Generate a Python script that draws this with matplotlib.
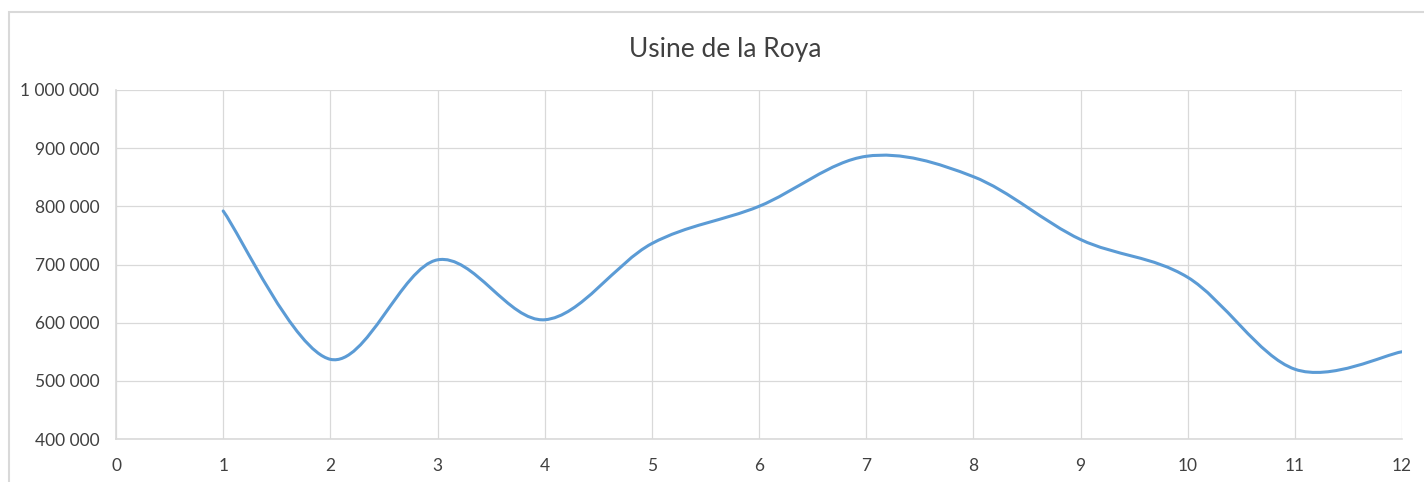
import numpy as np
import matplotlib
matplotlib.use("Agg")
import matplotlib.pyplot as plt
from matplotlib.path import Path
from matplotlib.patches import PathPatch, Rectangle
from matplotlib.ticker import FuncFormatter

# data
mois = [1, 2, 3, 4, 5, 6, 7, 8, 9, 10, 11, 12]
production = [792000, 537000, 708000, 605000, 736000, 800000,
              886000, 851000, 743000, 678000, 520000, 550000]

title = "Usine de la Roya"
x_ticks = list(range(0, 13))
y_ticks = list(range(400000, 1000001, 100000))

plt.rcParams['font.family'] = ['Lato', 'DejaVu Sans']
text_color = '#404040'
grid_color = '#D9D9D9'
line_color = '#5B9BD5'

fig = plt.figure(figsize=(14.24, 4.82), dpi=100)
ax = fig.add_axes([116 / 1424, 1 - 439 / 482, (1402 - 116) / 1424, (439 - 90) / 482])

# chart border (Excel style frame, cut by the image edge)
fig.patches.append(Rectangle((9 / 1424, -0.1), 1.2, 1 - 12 / 482 + 0.1,
                             transform=fig.transFigure, fill=False,
                             edgecolor=grid_color, linewidth=1.5))


# smoothed line like Excel: Catmull-Rom segments as cubic Bezier
def smooth_path(xs, ys):
    pts = np.column_stack([xs, ys]).astype(float)
    ext = np.vstack([pts[0], pts, pts[-1]])
    verts = [pts[0]]
    codes = [Path.MOVETO]
    for i in range(1, len(ext) - 2):
        p0, p1, p2, p3 = ext[i - 1], ext[i], ext[i + 1], ext[i + 2]
        c1 = p1 + (p2 - p0) / 6.0
        c2 = p2 - (p3 - p1) / 6.0
        verts += [c1, c2, p2]
        codes += [Path.CURVE4] * 3
    return Path(verts, codes)


patch = PathPatch(smooth_path(mois, production), facecolor='none',
                  edgecolor=line_color, linewidth=2.2, capstyle='round',
                  joinstyle='round', zorder=3)
ax.add_patch(patch)

ax.set_xlim(0, 12)
ax.set_ylim(400000, 1000000)
ax.set_xticks(x_ticks)
ax.set_yticks(y_ticks)
ax.yaxis.set_major_formatter(FuncFormatter(lambda v, p: f"{int(v):,}".replace(",", " ")))
ax.grid(True, color=grid_color, linewidth=0.9)
ax.set_axisbelow(True)
ax.tick_params(length=0, labelsize=12.5, labelcolor=text_color)
ax.tick_params(axis='y', pad=12)
ax.tick_params(axis='x', pad=14)
for side in ['top', 'right']:
    ax.spines[side].set_visible(False)
for side in ['left', 'bottom']:
    ax.spines[side].set_color(grid_color)
    ax.spines[side].set_linewidth(1.2)

fig.text(725 / 1424, 1 - 49 / 482, title, ha='center', va='center',
         fontsize=19, color=text_color)

fig.savefig("out.png", dpi=100, facecolor='white')
